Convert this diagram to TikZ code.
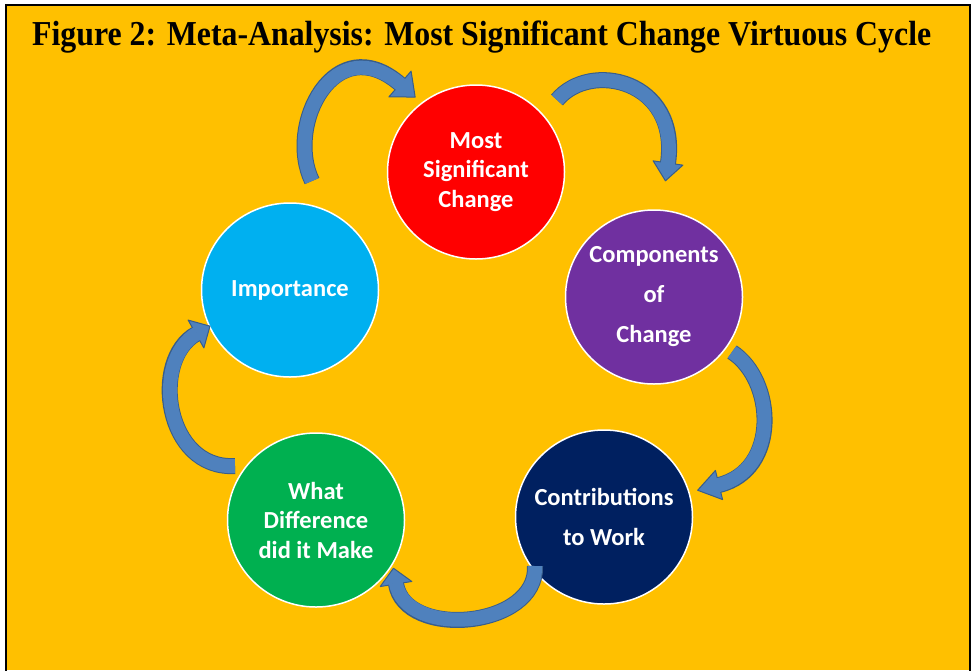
\documentclass[tikz,border=0pt]{standalone}
\usepackage{fontspec}
\setmainfont{Liberation Serif}
\newfontfamily\calib{Carlito}
\usetikzlibrary{shapes.geometric,calc}
\definecolor{bgyel}{HTML}{FFC000}
\definecolor{arrfill}{HTML}{4F81BD}
\definecolor{arredge}{HTML}{385D8A}
\definecolor{cred}{HTML}{FF0000}
\definecolor{cpurple}{HTML}{7030A0}
\definecolor{cnavy}{HTML}{002060}
\definecolor{cgreen}{HTML}{00B050}
\definecolor{ccyan}{HTML}{00B0F0}
\tikzset{
  bubble/.style={ellipse, draw=white, line width=1.5pt, minimum width=177pt, minimum height=174pt,
    inner sep=0pt},
  bubbletext/.style={inner sep=0pt, text=white, align=center, font=\calib\bfseries\fontsize{24.5}{29.5}\selectfont},
  widetext/.style={bubbletext, font=\calib\bfseries\fontsize{24.5}{40}\selectfont},
  arrowedge/.style={draw=arredge, line width=16pt},
  arrowbody/.style={draw=arrfill, line width=14pt, shorten >=-1.5pt},
  arrowtip/.style={fill=arrfill, draw=arredge, line width=1pt, line join=round},
  titletext/.style={anchor=base west, inner sep=0pt, font=\bfseries\fontsize{35}{40}\selectfont}
}
\newcommand{\cyclearrow}[6]{%
  \draw[arrowedge] (#1) .. controls (#2) and (#3) .. (#4);
  \filldraw[arrowtip] ($(#4)!#5!90:(#3)$) -- ($(#4)!-#6!(#3)$) -- ($(#4)!#5!-90:(#3)$) -- cycle;
  \draw[arrowbody] (#1) .. controls (#2) and (#3) .. (#4);
}
\begin{document}
\begin{tikzpicture}[x=1pt,y=-1pt]
\useasboundingbox (0,0) rectangle (973,670);
\fill[white] (0,0) rectangle (973,670);
\fill[bgyel] (6,5) rectangle (970,670);
\draw[line width=2pt] (6,672) -- (6,5) -- (970,5) -- (970,672);

\node[titletext] (title) at (32,45) {\resizebox{899pt}{\height}{Figure 2: Meta-Analysis: Most Significant Change Virtuous Cycle}};

\node[bubble, fill=cred] (msc) at (476,172) {};
\node[bubbletext] (msctext) at (msc.center) {Most\\Significant\\Change};
\node[bubble, fill=cpurple] (comp) at (654,297) {};
\node[widetext] (comptext) at (comp.center) {Components\\of\\Change};
\node[bubble, fill=cnavy] (contr) at (604,517) {};
\node[widetext] (contrtext) at (contr.center) {Contributions\\to Work};
\node[bubble, fill=cgreen] (diff) at (316,520) {};
\node[bubbletext] (difftext) at (diff.center) {What\\Difference\\did it Make};
\node[bubble, fill=ccyan] (imp) at (290,290) {};
\node[bubbletext] (imptext) at (imp.center) {Importance};

% arrow 1: Importance -> Most Significant Change
\coordinate (a1t) at (312,181);
\coordinate (a1c) at (285,125);
\coordinate (a1d) at (335,28);
\coordinate (a1e) at (400,84);
\cyclearrow{a1t}{a1c}{a1d}{a1e}{17pt}{20pt}
% arrow 2: Most Significant Change -> Components of Change
\coordinate (a2t) at (557,100);
\coordinate (a2c) at (590,60);
\coordinate (a2d) at (680,80);
\coordinate (a2e) at (668,163);
\cyclearrow{a2t}{a2c}{a2d}{a2e}{15pt}{18pt}
% arrow 3: Components of Change -> Contributions to Work
\coordinate (a3t) at (732,352);
\coordinate (a3c) at (775,380);
\coordinate (a3d) at (780,470);
\coordinate (a3e) at (719,485);
\cyclearrow{a3t}{a3c}{a3d}{a3e}{15pt}{22pt}
% arrow 4: Contributions to Work -> What Difference did it Make
\coordinate (a4t) at (535,566);
\coordinate (a4c) at (538,628);
\coordinate (a4d) at (405,640);
\coordinate (a4e) at (396,584);
\cyclearrow{a4t}{a4c}{a4d}{a4e}{16pt}{16pt}
% arrow 5: What Difference did it Make -> Importance
\coordinate (a5t) at (235,466);
\coordinate (a5c) at (165,470);
\coordinate (a5d) at (150,360);
\coordinate (a5e) at (196,334);
\cyclearrow{a5t}{a5c}{a5d}{a5e}{16pt}{16pt}
\end{tikzpicture}
\end{document}
